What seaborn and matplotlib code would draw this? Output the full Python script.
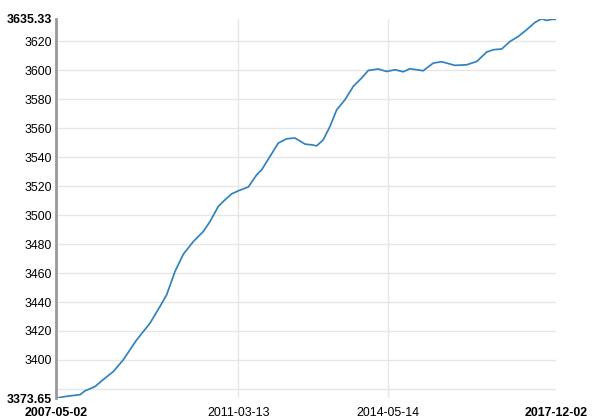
import numpy as np
import pandas as pd
import matplotlib
matplotlib.use("Agg")
import matplotlib.pyplot as plt
import seaborn as sns

dates = ["2007-05-02", "2007-07-11", "2007-11-04", "2007-12-12", "2008-02-28", "2008-05-15",
         "2008-07-18", "2008-10-03", "2009-01-15", "2009-04-28", "2009-07-14", "2009-09-04",
         "2009-11-07", "2010-01-11", "2010-03-29", "2010-06-14", "2010-08-05", "2010-10-08",
         "2010-11-29", "2011-01-20", "2011-03-12", "2011-05-28", "2011-08-01", "2011-09-09",
         "2011-11-12", "2012-01-15", "2012-03-20", "2012-05-23", "2012-08-09", "2012-09-30",
         "2012-11-07", "2012-12-28", "2013-02-18", "2013-04-11", "2013-06-14", "2013-08-17",
         "2013-10-21", "2013-12-11", "2014-02-27", "2014-05-02", "2014-07-06", "2014-09-08",
         "2014-10-30", "2015-02-09", "2015-04-28", "2015-07-02", "2015-10-13", "2016-01-11",
         "2016-03-29", "2016-06-14", "2016-08-04", "2016-10-08", "2016-12-11", "2017-02-14",
         "2017-04-19", "2017-06-22", "2017-08-13", "2017-09-21", "2017-10-30", "2017-12-02"]
values = [3373.65, 3374.8, 3376.1, 3378.7, 3381.7, 3387.5,
          3392.0, 3400.1, 3413.9, 3425.4, 3436.9, 3445.0,
          3461.0, 3473.0, 3481.7, 3488.6, 3495.5, 3505.9,
          3510.5, 3514.6, 3516.7, 3519.3, 3527.7, 3531.2,
          3540.4, 3549.6, 3552.6, 3553.1, 3548.9, 3548.4,
          3547.7, 3551.9, 3561.1, 3572.6, 3579.5, 3588.7,
          3594.5, 3599.7, 3600.7, 3599.0, 3600.2, 3598.8,
          3600.9, 3599.5, 3604.8, 3605.7, 3603.2, 3603.6,
          3605.9, 3612.4, 3614.0, 3614.5, 3619.7, 3623.2,
          3627.8, 3632.8, 3635.33, 3634.2, 3634.9, 3635.0]

y_min, y_max = 3373.65, 3635.33
y_ticks = [3373.65, 3380, 3400, 3420, 3440, 3460, 3480, 3500, 3520, 3540, 3560, 3580, 3600, 3620, 3635.33]
y_labels = ["3373.65", "", "3400", "3420", "3440", "3460", "3480", "3500", "3520", "3540", "3560",
            "3580", "3600", "3620", "3635.33"]
x_ticks = ["2007-05-02", "2011-03-13", "2014-05-14", "2017-12-02"]

df = pd.DataFrame({"date": pd.to_datetime(dates), "value": values})

sns.set_style("white")
plt.rcParams['font.family'] = ['Liberation Sans', 'DejaVu Sans']

fig = plt.figure(figsize=(6.04, 4.2), dpi=100)
ax = fig.add_axes([56/604, 1-398.2/420, 500/604, (398.2-18.8)/420])

sns.lineplot(data=df, x="date", y="value", ax=ax, color="#3182bd", linewidth=1.25)

ax.set_xlim(pd.Timestamp(x_ticks[0]), pd.Timestamp(x_ticks[-1]))
ax.set_ylim(y_min, y_max)

ax.set_yticks(y_ticks)
ax.set_yticklabels(y_labels)
ax.set_xticks(pd.to_datetime(x_ticks))
ax.set_xticklabels(x_ticks)

ax.grid(True, color="#e6e6e6", linewidth=1)
ax.set_axisbelow(True)
ygl = ax.yaxis.get_gridlines()
ygl[0].set_visible(False)
ygl[-1].set_visible(False)
xgl = ax.xaxis.get_gridlines()
xgl[0].set_visible(False)
xgl[-1].set_visible(False)

ax.tick_params(axis="both", length=0, labelsize=8.9, colors="black")
ax.tick_params(axis="y", pad=3)
ax.tick_params(axis="x", pad=6)
for lab in [ax.get_yticklabels()[0], ax.get_yticklabels()[-1],
            ax.get_xticklabels()[0], ax.get_xticklabels()[-1]]:
    lab.set_fontweight("bold")

for s in ["top", "right", "bottom"]:
    ax.spines[s].set_visible(False)
ax.spines["left"].set_color("#999999")
ax.spines["left"].set_linewidth(2)

ax.set_xlabel("")
ax.set_ylabel("")

fig.savefig("out.png", dpi=100)
